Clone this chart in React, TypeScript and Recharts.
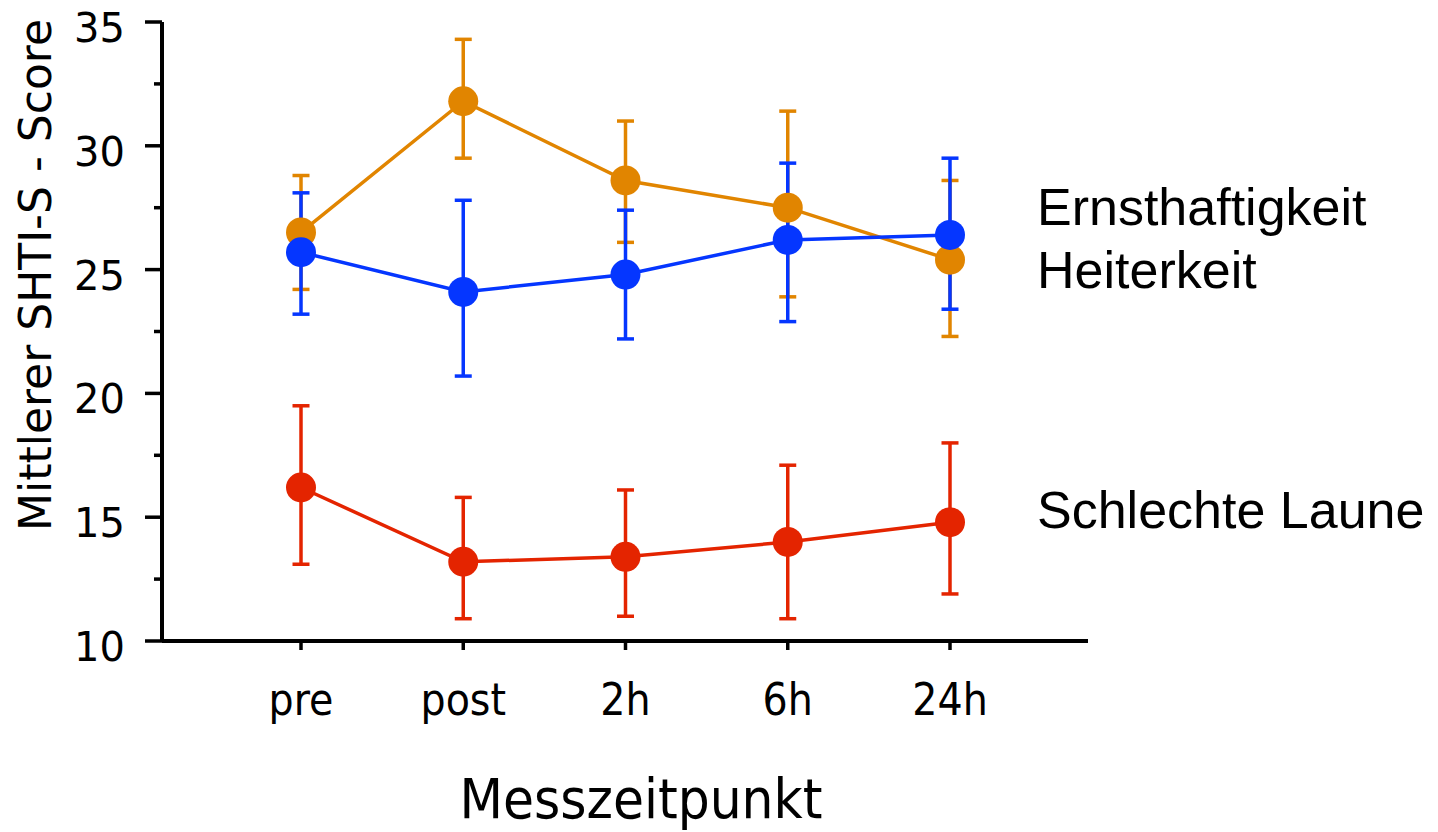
import React from 'react';
import { LineChart, Line, XAxis, YAxis, ErrorBar, Customized } from 'recharts';

// time points of measurement
const timepoints = ['pre', 'post', '2h', '6h', '24h'];

// Ernsthaftigkeit: mean, lower / upper end of error bar
const ernstMean = [26.5, 31.8, 28.6, 27.5, 25.4];
const ernstLow = [24.2, 29.5, 26.1, 23.9, 22.3];
const ernstHigh = [28.8, 34.3, 31.0, 31.4, 28.6];

// Heiterkeit
const heiterMean = [25.7, 24.1, 24.8, 26.2, 26.4];
const heiterLow = [23.2, 20.7, 22.2, 22.9, 23.4];
const heiterHigh = [28.1, 27.8, 27.4, 29.3, 29.5];

// Schlechte Laune
const launeMean = [16.2, 13.2, 13.4, 14.0, 14.8];
const launeLow = [13.1, 10.9, 11.0, 10.9, 11.9];
const launeHigh = [19.5, 15.8, 16.1, 17.1, 18.0];

const yTicks = [10, 12.5, 15, 17.5, 20, 22.5, 25, 27.5, 30, 32.5, 35];

const seriesNames = ['Ernsthaftigkeit', 'Heiterkeit', 'Schlechte Laune'];
const yAxisTitle = 'Mittlerer SHTI-S - Score';
const xAxisTitle = 'Messzeitpunkt';

const ORANGE = '#E18500';
const BLUE = '#0536FF';
const RED = '#E42400';

const data = timepoints.map((t, i) => ({
  time: t,
  ernst: ernstMean[i],
  ernstErr: [ernstMean[i] - ernstLow[i], ernstHigh[i] - ernstMean[i]],
  heiter: heiterMean[i],
  heiterErr: [heiterMean[i] - heiterLow[i], heiterHigh[i] - heiterMean[i]],
  laune: launeMean[i],
  launeErr: [launeMean[i] - launeLow[i], launeHigh[i] - launeMean[i]],
}));

const condensed = "'DejaVu Sans Condensed', 'DejaVu Sans', sans-serif";

function YTick(props: any) {
  const { x, y, payload } = props;
  const major = payload.value % 5 === 0;
  return (
    <g>
      <line x1={x + (major ? 20 : 29)} x2={x + 37} y1={y} y2={y} stroke="#000" strokeWidth={3.5} />
      {major && (
        <text x={x} y={y} dy={20} textAnchor="end" fontFamily="'DejaVu Sans', sans-serif" fontSize={40} fill="#000">
          {payload.value}
        </text>
      )}
    </g>
  );
}

function XTick(props: any) {
  const { x, y, payload } = props;
  return (
    <text x={x} y={y} dy={65} textAnchor="middle" fontFamily={condensed} fontStretch="condensed" fontSize={44} fill="#000">
      {payload.value}
    </text>
  );
}

function Titles() {
  return (
    <g>
      <text x={1037} y={225} fontFamily="'Liberation Sans', Arial, sans-serif" fontSize={52} fill="#000">{seriesNames[0]}</text>
      <text x={1037} y={288} fontFamily="'Liberation Sans', Arial, sans-serif" fontSize={52} fill="#000">{seriesNames[1]}</text>
      <text x={1037} y={528} fontFamily="'Liberation Sans', Arial, sans-serif" fontSize={52} fill="#000">{seriesNames[2]}</text>
      <text
        x={35}
        y={275}
        transform="rotate(-90 35 275)"
        textAnchor="middle"
        dominantBaseline="central"
        fontFamily="'DejaVu Sans', sans-serif"
        fontSize={44}
        fill="#000"
      >
        {yAxisTitle}
      </text>
      <text x={641} y={818} textAnchor="middle" fontFamily={condensed} fontStretch="condensed" fontSize={56} fill="#000">
        {xAxisTitle}
      </text>
    </g>
  );
}

export default function App() {
  return (
    <div style={{ position: 'absolute', left: 0, top: 0, background: '#fff' }}>
      <LineChart width={1438} height={832} data={data} margin={{ top: 22, right: 350, bottom: 0, left: 0 }}>
        <XAxis
          dataKey="time"
          type="category"
          padding={{ left: 139, right: 138 }}
          height={191}
          axisLine={{ stroke: '#000', strokeWidth: 4 }}
          tickLine={{ stroke: '#000', strokeWidth: 3.5 }}
          tickSize={9}
          tickMargin={0}
          tick={<XTick />}
          interval={0}
        />
        <YAxis
          type="number"
          domain={[10, 35]}
          ticks={yTicks}
          width={162}
          axisLine={{ stroke: '#000', strokeWidth: 4 }}
          tickLine={false}
          tickSize={17}
          tickMargin={20}
          tick={<YTick />}
          interval={0}
        />
        <Line dataKey="laune" stroke={RED} strokeWidth={3.5} dot={{ r: 15, fill: RED, stroke: 'none' }} activeDot={false} isAnimationActive={false}>
          <ErrorBar dataKey="launeErr" direction="y" width={8.5} stroke={RED} strokeWidth={3.5} />
        </Line>
        <Line dataKey="ernst" stroke={ORANGE} strokeWidth={3.5} dot={{ r: 15, fill: ORANGE, stroke: 'none' }} activeDot={false} isAnimationActive={false}>
          <ErrorBar dataKey="ernstErr" direction="y" width={8.5} stroke={ORANGE} strokeWidth={3.5} />
        </Line>
        <Line dataKey="heiter" stroke={BLUE} strokeWidth={3.5} dot={{ r: 15, fill: BLUE, stroke: 'none' }} activeDot={false} isAnimationActive={false}>
          <ErrorBar dataKey="heiterErr" direction="y" width={8.5} stroke={BLUE} strokeWidth={3.5} />
        </Line>
        <Customized component={Titles} />
      </LineChart>
    </div>
  );
}
